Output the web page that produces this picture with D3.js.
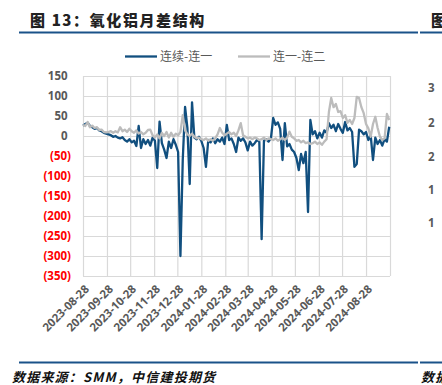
<!DOCTYPE html>
<html>
<head>
<meta charset="utf-8">
<script src="https://cdn.jsdelivr.net/npm/d3@7/dist/d3.min.js"></script>
<style>
  body { margin: 0; background: #fff; }
  svg { display: block; }
</style>
</head>
<body>
<div id="chart"></div>
<script>
// series names / legend
const seriesNames = ["连续-连一", "连一-连二"];

// first observation and spacing of the readings (days)
const startDate = "2023-08-28";
const stepDays = 3;

// 连续-连一
const spreadNear = [
  26, 30, 33, 25, 22, 18, 20, 14, 12, 8,
  6, 4, 2, -2, 0, -4, -6, -3, -10, -14,
  -8, -16, -12, -25, 25, -30, -8, -20, -10, -24,
  -4, -12, -80, 36, -18, -34, -55, -14, -30, -8,
  -22, -40, -300, -60, 73, 20, -120, 84, -4, -8,
  -2, -12, -30, -77, -10, -16, -6, -18, -8, -14,
  -4, -20, 28, -10, -6, -20, -40, -4, -12, -6,
  -16, -36, -14, -24, -18, -10, -14, -258, -12, -8,
  -14, -6, 45, 28, 34, 18, -60, 32, -26, -20,
  -34, -40, -55, -85, -45, -68, -40, -190, 40, 4,
  12, -6, 8, -4, 14, 8, 32, 20, 28, 12,
  30, 18, 8, 35, 14, 20, 10, -77, -70, 16,
  12, 4, 10, -10, 2, -60, -4, -20, -10, -24,
  -8, -14, 23
];

// 连一-连二
const spreadNext = [
  28, 25, 35, 22, 26, 20, 22, 15, 16, 10,
  9, 10, 12, 8, 12, 9, 22, 12, 16, 10,
  18, 12, 8, 14, 6, 10, 4, 8, 15, 16,
  2, -4, 4, -6, 8, 0, 10, -4, 8, -2,
  6, 2, 10, 52, 14, 4, 0, 6, -2, -6,
  -4, -8, -10, -6, -12, -8, -12, -6, 4, 20,
  8, 2, 6, 10, 4, 8, 0, 14, 32, 2,
  -2, -6, -4, -8, -4, -6, -10, -8, -4, -10,
  -6, -8, -10, -6, -12, -8, -4, -10, -4, 11,
  -2, -6, -12, -10, -16, -12, -18, -16, -20, -18,
  -14, -20, -16, -22, -14, -8, 60, 95, 72, 80,
  60, 62, 45, 52, 33, 40, 30, 45, 98, 95,
  72, 57, 30, 19, -2, 30, 48, 20, -2, -10,
  -6, 55, 40
];

// x axis labels (monthly) and the end of the axis
const tickLabels = [
  "2023-08-28", "2023-09-28", "2023-10-28", "2023-11-28", "2023-12-28",
  "2024-01-28", "2024-02-28", "2024-03-28", "2024-04-28", "2024-05-28",
  "2024-06-28", "2024-07-28", "2024-08-28"
];
const axisEnd = "2024-09-28";

// y axis ticks
const yTicks = [150, 100, 50, 0, -50, -100, -150, -200, -250, -300, -350];

const W = 442, H = 385;
const plot = { left: 83, right: 390, top: 76, bottom: 276 };
const blue = "#114f7f", grey = "#bcbcbc", ruleBlue = "#1a5289";
const txtGrey = "#595959";
const cjk = "'Noto Sans CJK SC', 'Noto Sans', sans-serif";
const num = "'Open Sans', 'Noto Sans', sans-serif";

const parse = d3.timeParse("%Y-%m-%d");
const t0 = parse(startDate);
const dates = spreadNear.map((d, i) => d3.timeDay.offset(t0, i * stepDays));
const rows = dates.map((d, i) => ({ date: d, a: spreadNear[i], b: spreadNext[i] }));

const svg = d3.select("#chart").append("svg")
  .attr("width", W)
  .attr("height", H);

const x = d3.scaleTime()
  .domain([parse(tickLabels[0]), parse(axisEnd)])
  .range([plot.left, plot.right]);

const y = d3.scaleLinear()
  .domain([-350, 150])
  .range([plot.bottom, plot.top]);

// title + rules
svg.append("text")
  .attr("x", 30).attr("y", 26)
  .attr("font-family", cjk).attr("font-weight", 900)
  .attr("font-size", 15).attr("letter-spacing", 1.6)
  .attr("fill", "#222")
  .text("图 13：氧化铝月差结构");
svg.append("text")
  .attr("x", 431).attr("y", 26)
  .attr("font-family", cjk).attr("font-weight", 900)
  .attr("font-size", 15).attr("fill", "#222")
  .text("图");

[[19, 418], [420, 442]].forEach(s => {
  svg.append("line").attr("x1", s[0]).attr("x2", s[1]).attr("y1", 32.5).attr("y2", 32.5)
    .attr("stroke", ruleBlue).attr("stroke-width", 2);
  svg.append("line").attr("x1", s[0]).attr("x2", s[1]).attr("y1", 362.5).attr("y2", 362.5)
    .attr("stroke", ruleBlue).attr("stroke-width", 2);
});

svg.append("text")
  .attr("x", 12).attr("y", 382)
  .attr("font-family", cjk).attr("font-weight", 700).attr("font-style", "italic")
  .attr("font-size", 13).attr("letter-spacing", 1.2)
  .attr("fill", "#111")
  .text("数据来源：SMM，中信建投期货");
svg.append("text")
  .attr("x", 421).attr("y", 382)
  .attr("font-family", cjk).attr("font-weight", 700).attr("font-style", "italic")
  .attr("font-size", 13).attr("letter-spacing", 1.2)
  .attr("fill", "#111")
  .text("数据");

// neighbour panel bits on the right edge
[["3", 88], ["2", 123], ["2", 157], ["1", 190], ["1", 223]].forEach(d => {
  svg.append("text").attr("x", 428).attr("y", d[1]).attr("dy", "0.35em")
    .attr("font-family", num).attr("font-weight", 700).attr("font-size", 11.5)
    .attr("fill", txtGrey).text(d[0]);
});

// grid
const g = svg.append("g");
g.append("g")
  .attr("transform", `translate(0,${plot.bottom})`)
  .call(d3.axisBottom(x)
    .tickValues(tickLabels.map(parse).concat([parse(axisEnd)]))
    .tickSize(-(plot.bottom - plot.top)).tickFormat(""))
  .call(a => a.select(".domain").remove())
  .selectAll("line").attr("stroke", "#d9d9d9").attr("stroke-width", 1.2);

g.append("g")
  .attr("transform", `translate(${plot.left},0)`)
  .call(d3.axisLeft(y).tickValues(yTicks)
    .tickSize(-(plot.right - plot.left)).tickPadding(12)
    .tickFormat(v => v < 0 ? "(" + Math.abs(v) + ")" : v + ""))
  .call(a => a.select(".domain").remove())
  .call(a => a.selectAll("line").attr("stroke", "#d9d9d9").attr("stroke-width", 1.2))
  .call(a => a.selectAll("text")
    .attr("font-family", num).attr("font-weight", 700).attr("font-size", 11.5)
    .attr("fill", v => v < 0 ? "#ff0000" : txtGrey)
    .attr("dx", v => v < 0 ? 0 : "-0.3em"));

// x labels
g.append("g").selectAll("text")
  .data(tickLabels)
  .enter()
  .append("text")
  .attr("transform", d => `translate(${x(parse(d)) + 4},${plot.bottom + 11}) rotate(-45)`)
  .attr("text-anchor", "end")
  .attr("dy", "0.35em")
  .attr("font-family", num).attr("font-weight", 700).attr("font-size", 11.5)
  .attr("fill", txtGrey)
  .text(d => d);

// lines
const lineA = d3.line().x(d => x(d.date)).y(d => y(d.a));
const lineB = d3.line().x(d => x(d.date)).y(d => y(d.b));

svg.append("path").datum(rows)
  .attr("d", lineA).attr("fill", "none")
  .attr("stroke", blue).attr("stroke-width", 2.3).attr("stroke-linejoin", "round");
svg.append("path").datum(rows)
  .attr("d", lineB).attr("fill", "none")
  .attr("stroke", grey).attr("stroke-width", 2.3).attr("stroke-linejoin", "round");

// legend
const legend = svg.append("g");
[[125, blue], [238, grey]].forEach((d, i) => {
  legend.append("line").attr("x1", d[0]).attr("x2", d[0] + 32)
    .attr("y1", 56.5).attr("y2", 56.5)
    .attr("stroke", d[1]).attr("stroke-width", 2.3);
  legend.append("text").attr("x", d[0] + 35).attr("y", 56.5).attr("dy", "0.35em")
    .attr("font-family", cjk).attr("font-size", 12).attr("fill", txtGrey)
    .text(seriesNames[i]);
});
</script>
</body>
</html>
